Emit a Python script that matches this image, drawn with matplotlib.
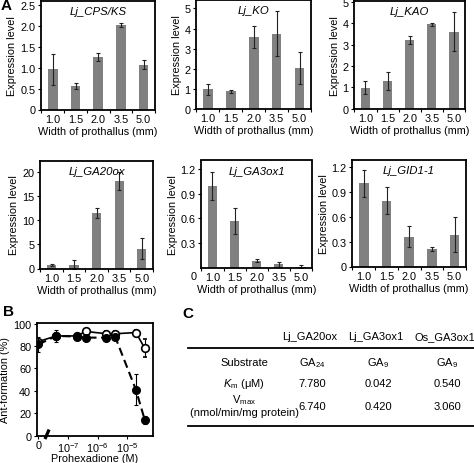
import numpy as np
import matplotlib.pyplot as plt
from matplotlib.lines import Line2D

plt.rcParams['font.family'] = ['Liberation Sans', 'DejaVu Sans']
plt.rcParams['mathtext.fontset'] = 'custom'
plt.rcParams['mathtext.rm'] = 'Liberation Sans'
plt.rcParams['mathtext.it'] = 'Liberation Sans:italic'
plt.rcParams['font.size'] = 7.8

W, H = 474, 464

widths = ['1.0', '1.5', '2.0', '3.5', '5.0']

cps_ks = [0.97, 0.57, 1.27, 2.04, 1.08]
cps_ks_err = [0.37, 0.07, 0.10, 0.05, 0.10]
ko = [0.98, 0.88, 3.57, 3.75, 2.02]
ko_err = [0.27, 0.07, 0.55, 1.10, 0.80]
kao = [0.98, 1.29, 3.22, 3.95, 3.60]
kao_err = [0.30, 0.44, 0.18, 0.08, 0.92]
ga20ox = [0.7, 0.8, 11.4, 18.1, 4.1]
ga20ox_err = [0.2, 1.0, 1.0, 1.8, 2.1]
ga3ox1 = [1.0, 0.57, 0.085, 0.04, 0.012]
ga3ox1_err = [0.17, 0.16, 0.015, 0.03, 0.015]
gid1 = [1.0, 0.79, 0.36, 0.21, 0.38]
gid1_err = [0.16, 0.16, 0.13, 0.02, 0.21]

# panel B
conc_pos = [-8.0, np.log10(4e-8), np.log10(2e-7), np.log10(4e-7),
            np.log10(2e-6), np.log10(4e-6), np.log10(2e-5), np.log10(4e-5)]
open_vals = [84, 89, 89, 93, 91, 91, 92, 78]
open_err = [3, 3, 2, 2, 2, 2, 2, 8]
closed_vals = [81.5, 89, 88.5, 87.5, 87.5, 88, 41, 14]
closed_err = [7, 5, 3, 2, 2, 2, 14, 4]

# panel C
tab_cols = ['Lj_GA20ox', 'Lj_GA3ox1', 'Os_GA3ox1']
substrate = ['GA$_{24}$', 'GA$_{9}$', 'GA$_{9}$']
km = ['7.780', '0.042', '0.540']
vmax = ['6.740', '0.420', '3.060']


def box(l, t, r, b):
    return [l / W, 1 - b / H, (r - l) / W, (b - t) / H]


def fx(x):
    return x / W


def fy(y):
    return 1 - y / H


fig = plt.figure(figsize=(4.74, 4.64), dpi=100)


def bar_panel(rect, vals, errs, title, ylim, yticks, yticklabels):
    ax = fig.add_axes(rect)
    x = np.arange(len(vals))
    ax.bar(x, vals, width=0.42, color='#808080')
    ax.errorbar(x, vals, yerr=errs, fmt='none', ecolor='#222222',
                elinewidth=0.8, capsize=1.3, capthick=0.8)
    ax.set_xlim(-0.52, 4.5)
    ax.set_ylim(*ylim)
    ax.set_xticks(x)
    ax.set_xticklabels(widths)
    ax.set_xticks(np.arange(-0.5, 5, 1), minor=True)
    ax.tick_params(axis='x', which='major', length=0, pad=3)
    ax.tick_params(axis='x', which='minor', length=2, width=0.8)
    ax.set_yticks(yticks)
    ax.set_yticklabels(yticklabels)
    ax.tick_params(axis='y', length=2.5, width=0.8, pad=1.5)
    for s in ax.spines.values():
        s.set_linewidth(1.3)
    ax.set_xlabel('Width of prothallus (mm)', labelpad=1.5)
    ax.set_ylabel('Expression level', labelpad=2)
    ax.text(0.5, 0.95, title, transform=ax.transAxes, ha='center',
            va='top', style='italic', fontsize=8.2)
    return ax


bar_panel(box(41, 1.5, 155, 110.5), cps_ks, cps_ks_err, 'Lj_CPS/KS',
          (0, 2.62), [0, 0.5, 1.0, 1.5, 2.0, 2.5],
          ['0', '0.5', '1.0', '1.5', '2.0', '2.5'])
bar_panel(box(196, 1, 311, 110), ko, ko_err, 'Lj_KO',
          (0, 5.42), [0, 1, 2, 3, 4, 5], ['0', '1', '2', '3', '4', '5'])
bar_panel(box(354, 2, 465, 109.5), kao, kao_err, 'Lj_KAO',
          (0, 5.05), [0, 1, 2, 3, 4, 5], ['0', '1', '2', '3', '4', '5'])
bar_panel(box(40, 161.5, 153, 269.5), ga20ox, ga20ox_err, 'Lj_GA20ox',
          (0, 22.3), [0, 5, 10, 15, 20], ['0', '5', '10', '15', '20'])
ax5 = bar_panel(box(201, 161.5, 312, 268.5), ga3ox1, ga3ox1_err, 'Lj_GA3ox1',
                (0, 1.31), [0.3, 0.6, 0.9, 1.2], ['0.3', '0.6', '0.9', '1.2'])
fig.text(fx(194), fy(276.5), '0', ha='center', va='center')
bar_panel(box(352, 161, 466, 267.5), gid1, gid1_err, 'Lj_GID1-1',
          (0, 1.28), [0, 0.3, 0.6, 0.9, 1.2], ['0', '0.3', '0.6', '0.9', '1.2'])

# panel B
axb = fig.add_axes(box(36.7, 323.5, 152.7, 436.7))
axb.errorbar(conc_pos, open_vals, yerr=open_err, color='black', lw=1.2,
             marker='o', ms=5.5, mfc='white', mec='black', mew=1.2,
             elinewidth=0.8, capsize=1.3, capthick=0.8, zorder=3)
axb.errorbar(conc_pos, closed_vals, yerr=closed_err, color='black', lw=1.5,
             ls=(0, (4, 2.2)), marker='o', ms=5.5, mfc='black', mec='black',
             elinewidth=0.8, capsize=1.3, capthick=0.8, zorder=4)
axb.set_xlim(-8.06, -4.13)
axb.set_ylim(0, 101)
axb.set_xticks([-8, -7, -6, -5])
axb.set_xticklabels(['0', r'$\mathregular{10^{-7}}$', r'$\mathregular{10^{-6}}$',
                     r'$\mathregular{10^{-5}}$'])
axb.set_yticks([0, 20, 40, 60, 80, 100])
axb.tick_params(axis='x', length=2, width=0.8, pad=1)
axb.tick_params(axis='y', length=2.5, width=0.8, pad=1.5)
for s in axb.spines.values():
    s.set_linewidth(1.3)
axb.set_xlabel('Prohexadione (M)')
axb.xaxis.set_label_coords(0.5, -0.152)
axb.set_ylabel('Ant-formation (%)', labelpad=2)
axb.plot([-7.78, -7.64], [-3, 5.5], color='black', lw=2.3, clip_on=False,
         solid_capstyle='butt', zorder=5)

# panel C table
fig.add_artist(Line2D([fx(188), fx(474)], [fy(348.5), fy(348.5)],
                      color='black', lw=1.3))
fig.add_artist(Line2D([fx(188), fx(474)], [fy(426.5), fy(426.5)],
                      color='black', lw=1.3))
col_x = [310, 376, 445]
for cx, name in zip(col_x, tab_cols):
    fig.text(fx(cx), fy(337), name, ha='center', va='center', fontsize=8)
fig.text(fx(244), fy(363), 'Substrate', ha='center', va='center', fontsize=8)
fig.text(fx(244), fy(384), r'$\mathit{K}_{\mathrm{m}}$ (μM)', ha='center',
         va='center', fontsize=8)
fig.text(fx(244), fy(400), r'V$_{\mathrm{max}}$', ha='center', va='center',
         fontsize=8)
fig.text(fx(244), fy(413), '(nmol/min/mg protein)', ha='center', va='center',
         fontsize=8)
for cx, s, k, v in zip(col_x, substrate, km, vmax):
    fig.text(fx(cx + 2), fy(363), s, ha='center', va='center', fontsize=8)
    fig.text(fx(cx + 2), fy(384), k, ha='center', va='center', fontsize=8)
    fig.text(fx(cx + 2), fy(407), v, ha='center', va='center', fontsize=8)

# panel letters
fig.text(fx(1), fy(-1), 'A', ha='left', va='top', fontsize=11, weight='bold')
fig.text(fx(3), fy(305), 'B', ha='left', va='top', fontsize=11, weight='bold')
fig.text(fx(182), fy(307), 'C', ha='left', va='top', fontsize=11, weight='bold')

fig.savefig('out.png', dpi=100)
